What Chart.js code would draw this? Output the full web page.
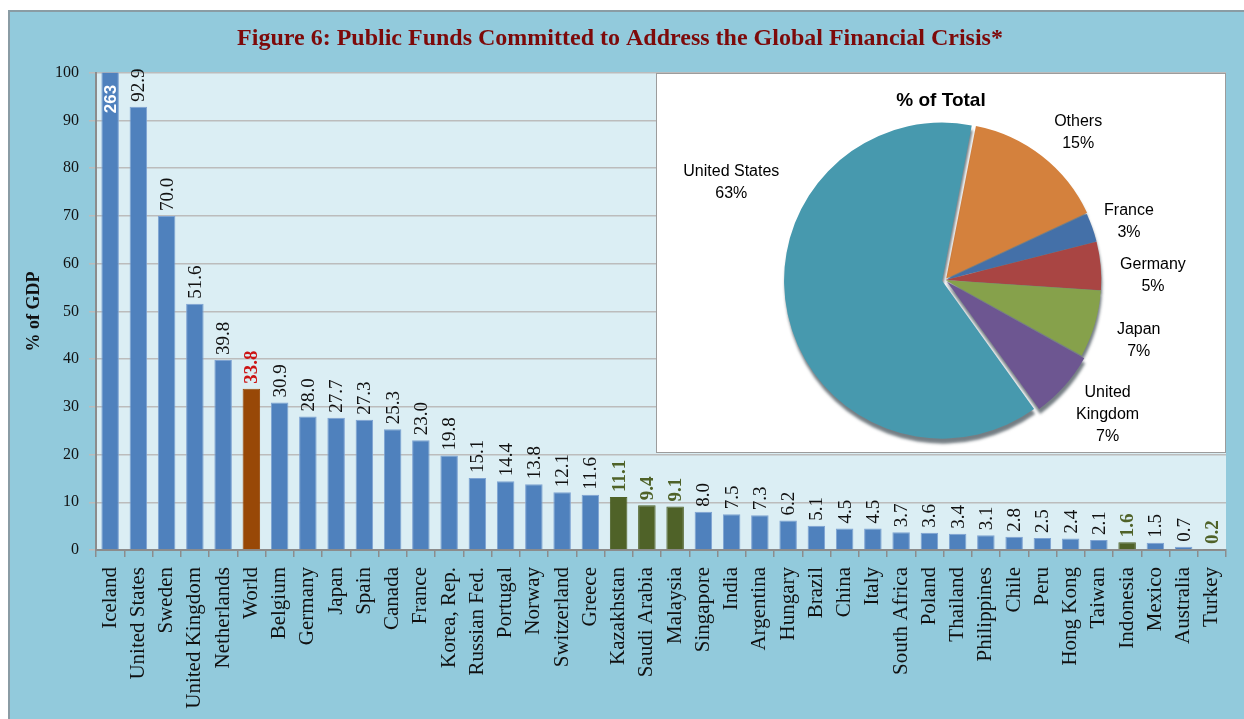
<!DOCTYPE html>
<html>
<head>
<meta charset="utf-8">
<script src="https://cdn.jsdelivr.net/npm/chart.js@4.4.1/dist/chart.umd.min.js"></script>
<style>
  html, body { margin: 0; padding: 0; background: #fff; overflow: hidden; }
  #frame { position: absolute; left: 8px; top: 10px; width: 1250px; height: 720px;
           background: #92cadc; border-top: 2px solid #8a9ca4; border-left: 2px solid #8a9ca4; }
  #bars { position: absolute; left: 0; top: 0; }
  #inset { position: absolute; left: 656px; top: 73px; width: 568px; height: 378px;
           background: #fff; border: 1px solid #9c9c9c; }
  #pie { position: absolute; left: 0; top: 0; }
</style>
</head>
<body>
<div id="frame"></div>
<canvas id="bars" width="1244" height="719"></canvas>
<div id="inset"><canvas id="pie" width="568" height="378"></canvas></div>
<script>
// --- data ---
const chartTitle = 'Figure 6: Public Funds Committed to Address the Global Financial Crisis*';
const countries = ['Iceland', 'United States', 'Sweden', 'United Kingdom', 'Netherlands', 'World',
  'Belgium', 'Germany', 'Japan', 'Spain', 'Canada', 'France', 'Korea, Rep.', 'Russian Fed.',
  'Portugal', 'Norway', 'Switzerland', 'Greece', 'Kazakhstan', 'Saudi Arabia', 'Malaysia',
  'Singapore', 'India', 'Argentina', 'Hungary', 'Brazil', 'China', 'Italy', 'South Africa',
  'Poland', 'Thailand', 'Philippines', 'Chile', 'Peru', 'Hong Kong', 'Taiwan', 'Indonesia',
  'Mexico', 'Australia', 'Turkey'];
const gdpShare = [263, 92.9, 70.0, 51.6, 39.8, 33.8, 30.9, 28.0, 27.7, 27.3, 25.3, 23.0, 19.8, 15.1,
  14.4, 13.8, 12.1, 11.6, 11.1, 9.4, 9.1, 8.0, 7.5, 7.3, 6.2, 5.1, 4.5, 4.5, 3.7,
  3.6, 3.4, 3.1, 2.8, 2.5, 2.4, 2.1, 1.6, 1.5, 0.7, 0.2];
const worldBars = ['World'];
const greenBars = ['Kazakhstan', 'Saudi Arabia', 'Malaysia', 'Indonesia', 'Turkey'];
const yTicks = [0, 10, 20, 30, 40, 50, 60, 70, 80, 90, 100];

const pieTitle = '% of Total';
const pieNames = ['Others', 'France', 'Germany', 'Japan', 'United\nKingdom', 'United States'];
const pieShares = [15, 3, 5, 7, 7, 63];

// --- styling ---
const SERIF = '"Liberation Serif", "Times New Roman", serif';
const SANS = '"Liberation Sans", Arial, sans-serif';
const BLUE = '#4f81bd', BROWN = '#984807', OLIVE = '#4f6228';

function barColor(name) {
  if (worldBars.includes(name)) return BROWN;
  if (greenBars.includes(name)) return OLIVE;
  return BLUE;
}

const plotBg = {
  id: 'plotBg',
  beforeDraw(chart) {
    const { ctx, chartArea: a } = chart;
    ctx.save();
    ctx.fillStyle = '#dbeef4';
    ctx.fillRect(a.left, a.top, a.right - a.left, a.bottom - a.top);
    ctx.restore();
  }
};

const barLabels = {
  id: 'barLabels',
  afterDatasetsDraw(chart) {
    const { ctx, chartArea: a } = chart;
    const meta = chart.getDatasetMeta(0);
    meta.data.forEach((bar, i) => {
      const v = gdpShare[i];
      const name = countries[i];
      ctx.save();
      if (v > yTicks[yTicks.length - 1]) {
        // clipped bar: value written inside in white
        ctx.translate(bar.x, a.top + 12);
        ctx.rotate(-Math.PI / 2);
        ctx.textAlign = 'right';
        ctx.textBaseline = 'middle';
        ctx.font = 'bold 17px ' + SANS;
        ctx.fillStyle = '#ffffff';
        ctx.fillText(String(v), 0, 1);
      } else {
        ctx.translate(bar.x, bar.y - 5);
        ctx.rotate(-Math.PI / 2);
        ctx.textAlign = 'left';
        ctx.textBaseline = 'middle';
        if (worldBars.includes(name)) {
          ctx.font = 'bold 19px ' + SERIF; ctx.fillStyle = '#cc1414';
        } else if (greenBars.includes(name)) {
          ctx.font = 'bold 19px ' + SERIF; ctx.fillStyle = OLIVE;
        } else {
          ctx.font = '19px ' + SERIF; ctx.fillStyle = '#111';
        }
        ctx.fillText(v.toFixed(1), 0, 1);
      }
      ctx.restore();
    });
  }
};

new Chart(document.getElementById('bars'), {
  type: 'bar',
  data: {
    labels: countries,
    datasets: [{
      data: gdpShare,
      backgroundColor: countries.map(barColor),
      borderColor: countries.map(n => barColor(n) === BLUE ? '#7ea3d2' : barColor(n)),
      borderWidth: 1,
      barPercentage: 0.62,
      categoryPercentage: 1
    }]
  },
  options: {
    responsive: false,
    animation: false,
    events: [],
    layout: { padding: { left: 14, right: 18, top: 0, bottom: 0 } },
    plugins: {
      legend: { display: false },
      tooltip: { enabled: false },
      title: {
        display: true, text: chartTitle, color: '#7d0a0a',
        font: { family: SERIF, size: 24, weight: 'bold' },
        padding: { top: 24, bottom: 20 }
      }
    },
    scales: {
      x: {
        grid: { offset: true, drawOnChartArea: false, tickLength: 7, color: '#8c8c8c', lineWidth: 1.5 },
        border: { color: '#8c8c8c', width: 2 },
        ticks: { autoSkip: false, maxRotation: 90, minRotation: 90, padding: 10, color: '#111',
                 font: { family: SERIF, size: 21 } },
        afterFit(s) { s.height = 169; s.paddingLeft = 0; s.paddingRight = 0; }
      },
      y: {
        min: 0, max: 100,
        afterBuildTicks(s) { s.ticks = yTicks.map(v => ({ value: v })); },
        ticks: { padding: 10, color: '#111', font: { family: SERIF, size: 16 } },
        grid: { color: '#bcbcbc', lineWidth: 1.5, tickLength: 7 },
        border: { color: '#8c8c8c', width: 2 },
        title: { display: true, text: '% of GDP', color: '#111',
                 font: { family: SERIF, size: 18, weight: 'bold' }, padding: { top: 10, bottom: 0 } },
        afterFit(s) { s.width = 82; s.paddingTop = 0; s.paddingBottom = 0; }
      }
    }
  },
  plugins: [plotBg, barLabels]
});

// --- inset pie ---
const pieColors = ['#d4813d', '#4470a8', '#a94543', '#86a14b', '#6d5691', '#4799ae'];
const pieOffsets = [8, 3, 3, 3, 12, 12];
const labelGap = [44, 38, 53, 48, 56, 80];
const labelTurn = [4, 2, 4, 1, -2, 37];

const pieShadow = {
  id: 'pieShadow',
  beforeDatasetsDraw(chart) {
    const ctx = chart.ctx;
    ctx.save();
    ctx.shadowColor = 'rgba(25,40,50,0.6)';
    ctx.shadowOffsetX = 1;
    ctx.shadowOffsetY = 5;
    ctx.shadowBlur = 3;
  },
  afterDatasetsDraw(chart) { chart.ctx.restore(); }
};

const pieText = {
  id: 'pieText',
  afterDraw(chart) {
    const ctx = chart.ctx;
    ctx.save();
    ctx.fillStyle = '#000';
    ctx.textAlign = 'center';
    ctx.textBaseline = 'middle';
    ctx.font = 'bold 19px ' + SANS;
    ctx.fillText(pieTitle, chart.width / 2, 27);
    ctx.font = '16px ' + SANS;
    chart.getDatasetMeta(0).data.forEach((arc, i) => {
      const mid = (arc.startAngle + arc.endAngle) / 2 + labelTurn[i] * Math.PI / 180;
      const r = arc.outerRadius + labelGap[i];
      const x = arc.x + Math.cos(mid) * r;
      const y = arc.y + Math.sin(mid) * r;
      const lines = pieNames[i].split('\n').concat(pieShares[i] + '%');
      const lh = 22;
      lines.forEach((t, k) => ctx.fillText(t, x, y + (k - (lines.length - 1) / 2) * lh));
    });
    ctx.restore();
  }
};

new Chart(document.getElementById('pie'), {
  type: 'pie',
  data: {
    labels: pieNames,
    datasets: [{
      data: pieShares,
      backgroundColor: pieColors,
      borderWidth: 0,
      offset: pieOffsets
    }]
  },
  options: {
    responsive: false,
    animation: false,
    events: [],
    rotation: 11,
    radius: 155,
    layout: { padding: { left: 40, right: 32, top: 40, bottom: 6 } },
    plugins: { legend: { display: false }, tooltip: { enabled: false } }
  },
  plugins: [pieShadow, pieText]
});
</script>
</body>
</html>
